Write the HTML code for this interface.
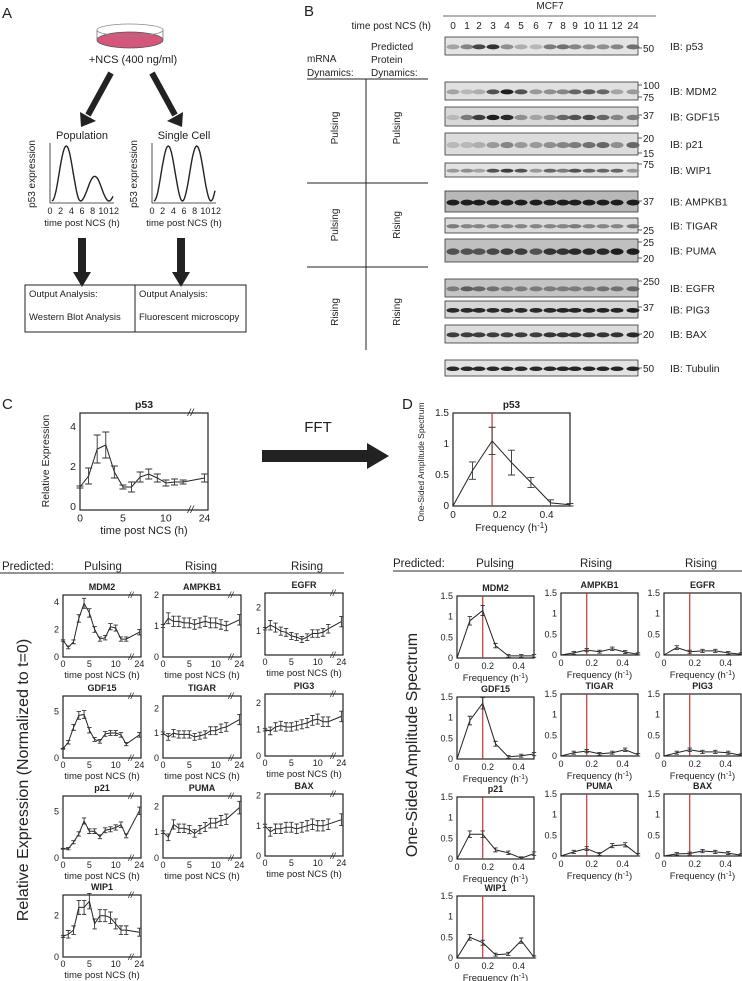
<!DOCTYPE html>
<html><head><meta charset="utf-8"><style>
body{margin:0;background:#fff;}
svg{display:block;font-family:"Liberation Sans",sans-serif;}
text{fill:#222;}
</style></head><body>
<svg id="fig" width="742" height="981" viewBox="0 0 742 981">
<!-- Panel A -->
<g>
<text x="2" y="18" font-size="15">A</text>
<ellipse cx="130" cy="40" rx="33" ry="8" fill="#d4567a" stroke="#555" stroke-width="0.8"/>
<path d="M97 30 L97 40 M163 30 L163 40" stroke="#777" stroke-width="0.8"/>
<ellipse cx="130" cy="30" rx="33" ry="6" fill="none" stroke="#888" stroke-width="0.8"/>
<text x="133" y="63" font-size="11" text-anchor="middle">+NCS (400 ng/ml)</text>
<line x1="111" y1="73" x2="88" y2="115" stroke="#222" stroke-width="6"/>
<polygon points="80,112 96,121 81,127" fill="#222"/>
<line x1="152" y1="73" x2="175" y2="115" stroke="#222" stroke-width="6"/>
<polygon points="167,121 183,112 182,127" fill="#222"/>
<text x="82" y="139" font-size="11" text-anchor="middle">Population</text>
<text x="184" y="139" font-size="11" text-anchor="middle">Single Cell</text>
<g id="schem"></g>
<rect x="78" y="238" width="8" height="36" fill="#222"/>
<polygon points="73,272 91,272 82,287" fill="#222"/>
<rect x="177" y="238" width="8" height="36" fill="#222"/>
<polygon points="172,272 190,272 181,287" fill="#222"/>
<rect x="25" y="285" width="221" height="47" fill="none" stroke="#222" stroke-width="1"/>
<line x1="135" y1="285" x2="135" y2="332" stroke="#222"/>
<text x="29" y="297" font-size="9.5">Output Analysis:</text>
<text x="29" y="320" font-size="9.5">Western Blot Analysis</text>
<text x="139" y="297" font-size="9.5">Output Analysis:</text>
<text x="139" y="320" font-size="9.5">Fluorescent microscopy</text>
</g>
<!-- Panel B -->
<g>
<text x="304" y="16" font-size="15">B</text>
<text x="550" y="9" font-size="10" text-anchor="middle">MCF7</text>
<line x1="443" y1="16" x2="656" y2="16" stroke="#888" stroke-width="1.2"/>
<text x="431" y="29" font-size="10" text-anchor="end">time post NCS (h)</text>
<text x="371" y="50" font-size="10">Predicted</text>
<text x="371" y="63" font-size="10">Protein</text>
<text x="371" y="76" font-size="10">Dynamics:</text>
<text x="307" y="62" font-size="10">mRNA</text>
<text x="307" y="76" font-size="10">Dynamics:</text>
<line x1="307" y1="79" x2="428" y2="79" stroke="#222"/>
<line x1="307" y1="183" x2="428" y2="183" stroke="#222"/>
<line x1="307" y1="267" x2="428" y2="267" stroke="#222"/>
<line x1="366" y1="79" x2="366" y2="350" stroke="#222"/>
<text transform="translate(338,128) rotate(-90)" font-size="10" text-anchor="middle">Pulsing</text>
<text transform="translate(400,128) rotate(-90)" font-size="10" text-anchor="middle">Pulsing</text>
<text transform="translate(338,225) rotate(-90)" font-size="10" text-anchor="middle">Pulsing</text>
<text transform="translate(400,225) rotate(-90)" font-size="10" text-anchor="middle">Rising</text>
<text transform="translate(338,312) rotate(-90)" font-size="10" text-anchor="middle">Rising</text>
<text transform="translate(400,312) rotate(-90)" font-size="10" text-anchor="middle">Rising</text>
<g id="blots"></g>
</g>
<!-- Panel C/D headers -->
<text x="2" y="409" font-size="15">C</text>
<text x="402" y="409" font-size="15">D</text>
<polygon points="262,450 367,450 367,443 389,456 367,469 367,462 262,462" fill="#222"/>
<text x="318" y="432" font-size="15" text-anchor="middle">FFT</text>
<text x="2" y="570" font-size="11.5">Predicted:</text>
<text x="103" y="570" font-size="11.5" text-anchor="middle">Pulsing</text>
<text x="201" y="570" font-size="11.5" text-anchor="middle">Rising</text>
<text x="307" y="570" font-size="11.5" text-anchor="middle">Rising</text>
<line x1="0" y1="573" x2="344" y2="573" stroke="#555" stroke-width="1.2"/>
<text x="393" y="567" font-size="11.5">Predicted:</text>
<text x="495" y="567" font-size="11.5" text-anchor="middle">Pulsing</text>
<text x="596" y="567" font-size="11.5" text-anchor="middle">Rising</text>
<text x="701" y="567" font-size="11.5" text-anchor="middle">Rising</text>
<line x1="393" y1="571" x2="742" y2="571" stroke="#555" stroke-width="1.2"/>
<text transform="translate(28,780) rotate(-90)" font-size="16" text-anchor="middle">Relative Expression (Normalized to t=0)</text>
<text transform="translate(417,745) rotate(-90)" font-size="16" text-anchor="middle">One-Sided Amplitude Spectrum</text>
<g id="charts"></g>
</svg>
<script>
// ---- data ----
var times=[0,1,2,3,4,5,6,7,8,9,10,11,12,24];
var freqs=[0,0.083,0.167,0.25,0.333,0.417,0.5];
var peakFreq=0.167;
var p53Vals=[1.0,1.55,2.9,3.1,1.75,1.0,1.0,1.5,1.65,1.45,1.2,1.25,1.25,1.45];
var p53Errs=[0.05,0.4,0.7,0.65,0.3,0.1,0.25,0.25,0.25,0.2,0.15,0.15,0.1,0.2];
var p53Fft=[0,0.57,1.05,0.7,0.38,0.05,0.02];
var p53FftErr=[0,0.14,0.22,0.2,0.08,0.05,0.02];
var genes=["MDM2","AMPKB1","EGFR","GDF15","TIGAR","PIG3","p21","PUMA","BAX","WIP1"];
var geneMax=[4.5,2,2.6,6.7,2.5,2.35,6.7,2.4,2.05,3.0];
var geneTicks=[[0,2,4],[0,1,2],[1,2],[0,5],[0,1,2],[0,1,2],[0,5],[0,1,2],[0,1,2],[0,2]];
var mdm2Vals=[1.2,0.7,1.1,2.8,3.9,3.2,2.0,1.3,1.4,2.2,2.1,1.3,1.3,1.8];
var ampkVals=[1.0,1.25,1.15,1.15,1.1,1.1,1.05,1.1,1.15,1.1,1.1,1.05,1.0,1.2];
var egfrVals=[1.1,1.25,1.15,1.0,0.95,0.8,0.75,0.65,0.75,0.9,0.9,0.95,1.1,1.4];
var gdf15Vals=[1,1.7,3.3,4.6,4.7,3.0,2.0,1.8,2.6,2.7,2.7,2.5,1.5,2.5];
var tigarVals=[1.0,0.85,1.0,0.95,0.95,0.95,0.85,0.9,0.95,1.1,1.1,1.2,1.25,1.55];
var pig3Vals=[1.0,0.95,1.1,1.15,1.1,1.1,1.15,1.2,1.25,1.35,1.4,1.3,1.3,1.5];
var p21Vals=[1,1.0,1.7,2.6,4.0,2.9,2.9,2.3,3.0,3.1,3.3,3.6,2.4,5.1];
var pumaVals=[1.0,0.8,1.3,1.15,1.15,1.1,0.95,1.1,1.2,1.35,1.35,1.45,1.5,1.95];
var baxVals=[1.0,0.8,0.9,0.9,0.95,0.95,0.9,0.95,1.0,1.05,1.0,1.0,1.05,1.2];
var wip1Vals=[1,1.1,1.3,2.4,2.4,2.7,1.6,2.0,2.0,1.9,1.6,1.3,1.3,1.2];
var geneVals=[mdm2Vals,ampkVals,egfrVals,gdf15Vals,tigarVals,pig3Vals,p21Vals,pumaVals,baxVals,wip1Vals];
var geneErrFrac=[0.08,0.1,0.12,0.08,0.1,0.1,0.07,0.1,0.12,0.12];
var mdm2Fft=[0,0.9,1.15,0.3,0.05,0.05,0.05];
var ampkFft=[0,0.05,0.12,0.08,0.15,0.07,0.02];
var egfrFft=[0,0.18,0.08,0.1,0.1,0.05,0.02];
var gdf15Fft=[0,0.93,1.35,0.37,0.05,0.08,0.12];
var tigarFft=[0,0.08,0.12,0.05,0.08,0.15,0.03];
var pig3Fft=[0,0.08,0.15,0.1,0.1,0.08,0.02];
var p21Fft=[0,0.6,0.6,0.22,0.15,0.02,0.13];
var pumaFft=[0,0.1,0.18,0.05,0.25,0.27,0.03];
var baxFft=[0,0.05,0.06,0.12,0.1,0.07,0.02];
var wip1Fft=[0,0.5,0.37,0.08,0.1,0.42,0.02];
var geneFft=[mdm2Fft,ampkFft,egfrFft,gdf15Fft,tigarFft,pig3Fft,p21Fft,pumaFft,baxFft,wip1Fft];
// blots
var blotNames=["p53","MDM2","GDF15","p21","WIP1","AMPKB1","TIGAR","PUMA","EGFR","PIG3","BAX","Tubulin"];
var laneLabels=["0","1","2","3","4","5","6","7","8","9","10","11","12","24"];
var p53Band=[.3,.45,.75,.85,.4,.25,.2,.5,.55,.45,.4,.4,.45,.55];
var mdm2Band=[.3,.2,.25,.7,.95,.7,.35,.4,.45,.6,.65,.6,.3,.35];
var gdf15Band=[.2,.5,.8,.95,.9,.4,.3,.4,.6,.7,.75,.6,.45,.5];
var p21Band=[.2,.2,.25,.35,.45,.35,.35,.4,.45,.5,.55,.6,.4,.6];
var wip1Band=[.35,.4,.3,.7,.8,.7,.35,.6,.5,.7,.6,.6,.6,.35];
var ampkBand=[.95,.95,.95,.95,.95,.95,.95,.95,.95,.95,.95,.95,.95,.95];
var tigarBand=[.5,.45,.45,.45,.45,.45,.45,.45,.45,.5,.45,.45,.45,.5];
var pumaBand=[.7,.7,.7,.75,.8,.8,.7,.85,.85,.9,.9,.9,.95,.95];
var egfrBand=[.5,.65,.6,.55,.5,.5,.5,.5,.5,.5,.5,.55,.55,.6];
var pig3Band=[.9,.9,.9,.9,.9,.9,.9,.9,.92,.92,.92,.92,.92,.95];
var baxBand=[.8,.8,.8,.8,.8,.8,.8,.85,.85,.85,.85,.85,.85,.9];
var tubBand=[.9,.9,.9,.9,.9,.9,.9,.9,.92,.92,.92,.92,.92,.92];
var blotBands=[p53Band,mdm2Band,gdf15Band,p21Band,wip1Band,ampkBand,tigarBand,pumaBand,egfrBand,pig3Band,baxBand,tubBand];

var NS="http://www.w3.org/2000/svg";
function mk(tag,attrs,parent){var e=document.createElementNS(NS,tag);for(var k in attrs)e.setAttribute(k,attrs[k]);parent.appendChild(e);return e;}
function txt(s,attrs,parent){var e=mk("text",attrs,parent);e.textContent=s;return e;}

// ---- schematic plots in A ----
(function(){
  var g=document.getElementById("schem");
  var specs=[{x0:50,w:64,name:"population",damp:true},{x0:152,w:64,name:"single-cell",damp:false}];
  specs.forEach(function(s){
    var ax=mk("path",{d:"M"+s.x0+" 143 L"+s.x0+" 203 L"+(s.x0+s.w)+" 203",fill:"none",stroke:"#222","stroke-width":0.8},g);
    
    
    var d="";
    for(var i=0;i<=60;i++){var t=i/5;var a=s.damp?(t<5.5?1:0.45):1;var v=(1-Math.cos(2*Math.PI*t/5.6))/2*a;
      var X=s.x0+2+t/12*(s.w-3),Y=201-v*55;d+=(i?"L":"M")+X.toFixed(1)+" "+Y.toFixed(1);}
    var c=mk("path",{d:d,fill:"none",stroke:"#222","stroke-width":1.4},g);
    
    
    for(var k=0;k<=6;k++){var tl=txt(String(k*2),{x:s.x0+k*s.w/6,y:214,"font-size":9,"text-anchor":"middle"},g);
      
      }
    var xl=txt("time post NCS (h)",{x:s.x0+s.w/2,y:226,"font-size":9.5,"text-anchor":"middle"},g);
    
    
    var yl=txt("p53 expression",{transform:"translate("+(s.x0-15)+",174) rotate(-90)","font-size":10,"text-anchor":"middle"},g);
    
    
  });
})();

// ---- blots ----
(function(){
  var g=document.getElementById("blots");
  var rows=[[37,55],[82,100],[107,126],[133,155],[163,177],[191,212],[218,233],[239,262],[279,297],[301,318],[325,343],[360,376]];
  var bgs=["#e4e4e4","#e0e0e0","#d8d8d8","#dcdcdc","#e2e2e2","#b8b8b8","#dadada","#c0c0c0","#c4c4c4","#d6d6d6","#dcdcdc","#e2e2e2"];
  var mw=[[["50",48]],[["100",85],["75",97]],[["37",115]],[["20",138],["15",153]],[["75",164]],[["37",201]],[["25",230]],[["25",242],["20",258]],[["250",281]],[["37",307]],[["20",334]],[["50",368]]];
  var laneX=[453,467,479,493,507,521,536,550,563,575,589,603,617,633];
  laneLabels.forEach(function(l,i){var t=txt(l,{x:laneX[i],y:29,"font-size":10,"text-anchor":"middle"},g);
    
    });
  blotNames.forEach(function(n,r){
    var y0=rows[r][0],y1=rows[r][1],h=y1-y0;
    var box=mk("rect",{x:445,y:y0,width:193,height:h,fill:bgs[r],stroke:"#333","stroke-width":0.8},g);
    
    
    blotBands[r].forEach(function(v,i){
      var gray=Math.round(225-v*205);
      var b=mk("ellipse",{cx:laneX[i],cy:y0+h*0.55,rx:6.5,ry:Math.max(1.6,h*0.14),fill:"rgb("+gray+","+gray+","+gray+")"},g);
      
      
    });
    mw[r].forEach(function(m){
      var tk=mk("line",{x1:638,y1:m[1],x2:642,y2:m[1],stroke:"#333","stroke-width":0.8},g);
      
      
      var mt=txt(m[0],{x:643,y:m[1]+4,"font-size":10},g);
      
      
    });
    var lb=txt("IB: "+n,{x:670,y:(y0+y1)/2+4,"font-size":10.5},g);
    
    
  });
})();

// ---- charts ----
var chartsG=document.getElementById("charts");
function tpos(t){return t===24?14.5:t;}
function timeChart(c){
  var g=mk("g",{},chartsG);
  
  
  var sx=function(t){return c.x+tpos(t)/c.xmax*c.w;};
  var sy=function(v){return c.y+c.h-(v-c.ymin)/(c.ymax-c.ymin)*c.h;};
  var box=mk("rect",{x:c.x,y:c.y,width:c.w,height:c.h,fill:"none",stroke:"#222","stroke-width":1.2},g);
  
  
  var bx=sx(12)+(sx(24)-sx(12))*0.35;
  [c.y,c.y+c.h].forEach(function(yy){
    var br=txt("//",{x:bx,y:yy+3,"font-size":c.fs,"text-anchor":"middle","font-style":"italic"},g);
    
    });
  var pts=c.vals.map(function(v,i){return sx(times[i]).toFixed(1)+","+sy(v).toFixed(1);}).join(" ");
  var ln=mk("polyline",{points:pts,fill:"none",stroke:"#222","stroke-width":1},g);
  
  
  c.vals.forEach(function(v,i){
    var e=c.errs[i],X=sx(times[i]),cap=c.cap;
    var eb=mk("path",{d:"M"+X+" "+sy(v-e)+" L"+X+" "+sy(v+e)+" M"+(X-cap)+" "+sy(v-e)+" L"+(X+cap)+" "+sy(v-e)+" M"+(X-cap)+" "+sy(v+e)+" L"+(X+cap)+" "+sy(v+e),stroke:"#333","stroke-width":0.9,fill:"none"},g);
    
    
  });
  [0,5,10,24].forEach(function(t){
    var tl=txt(String(t),{x:sx(t),y:c.y+c.h+c.fs+1,"font-size":c.fs,"text-anchor":"middle"},g);
    
    });
  c.ticks.forEach(function(v){
    var yl=txt(String(v),{x:c.x-4,y:sy(v)+3,"font-size":c.fs,"text-anchor":"end"},g);
    
    });
  var xt=txt("time post NCS (h)",{x:c.x+c.w/2,y:c.y+c.h+c.fs*2+3,"font-size":c.fs+0.5,"text-anchor":"middle"},g);
  
  
  var tt=txt(c.title,{x:c.x+c.w/2,y:c.y-5,"font-size":c.fs,"font-weight":"bold","text-anchor":"middle"},g);
  
  
}
function fftChart(c){
  var g=mk("g",{},chartsG);
  
  
  var sx=function(f){return c.x+f/0.5*c.w;};
  var sy=function(v){return c.y+c.h-v/1.5*c.h;};
  var box=mk("rect",{x:c.x,y:c.y,width:c.w,height:c.h,fill:"none",stroke:"#222","stroke-width":1.2},g);
  
  
  var rl=mk("line",{x1:sx(peakFreq),y1:c.y,x2:sx(peakFreq),y2:c.y+c.h,stroke:"#c0392b","stroke-width":1.2},g);
  
  
  var pts=c.vals.map(function(v,i){return sx(freqs[i]).toFixed(1)+","+sy(v).toFixed(1);}).join(" ");
  var ln=mk("polyline",{points:pts,fill:"none",stroke:"#222","stroke-width":1},g);
  
  
  c.vals.forEach(function(v,i){
    var e=c.errs[i];if(!e)return;var X=sx(freqs[i]),cap=c.cap;
    var eb=mk("path",{d:"M"+X+" "+sy(Math.max(0,v-e))+" L"+X+" "+sy(v+e)+" M"+(X-cap)+" "+sy(Math.max(0,v-e))+" L"+(X+cap)+" "+sy(Math.max(0,v-e))+" M"+(X-cap)+" "+sy(v+e)+" L"+(X+cap)+" "+sy(v+e),stroke:"#333","stroke-width":0.9,fill:"none"},g);
    
    
  });
  [0,0.2,0.4].forEach(function(f){
    var tl=txt(String(f),{x:sx(f),y:c.y+c.h+c.fs+2,"font-size":c.fs,"text-anchor":"middle"},g);
    
    });
  [0,0.5,1,1.5].forEach(function(v){
    var yl=txt(String(v),{x:c.x-4,y:sy(v)+3,"font-size":c.fs,"text-anchor":"end"},g);
    
    });
  var xt=mk("text",{x:c.x+c.w/2,y:c.y+c.h+c.fs*2+5,"font-size":c.fs+0.5,"text-anchor":"middle"},g);
  xt.innerHTML='Frequency (h<tspan dy="-3" font-size="'+(c.fs-2)+'">-1</tspan><tspan dy="3">)</tspan>';
  
  
  var tt=txt(c.title,{x:c.x+c.w/2,y:c.y-5,"font-size":c.fs,"font-weight":"bold","text-anchor":"middle"},g);
  
  
}
// panel C
timeChart({name:"p53",title:"p53",x:80,y:413,w:128,h:97,xmax:14.9,ymin:-0.15,ymax:4.7,vals:p53Vals,errs:p53Errs,ticks:[0,2,4],fs:10.5,cap:3.5});
(function(){var yl=txt("Relative Expression",{transform:"translate(49,461) rotate(-90)","font-size":10.5,"text-anchor":"middle"},chartsG);
  
  })();
// panel D
fftChart({name:"p53",title:"p53",x:453,y:413,w:117,h:93,vals:p53Fft,errs:p53FftErr,fs:10,cap:3.5});
(function(){var yl=txt("One-Sided Amplitude Spectrum",{transform:"translate(424,462) rotate(-90)","font-size":8.5,"text-anchor":"middle"},chartsG);
  
  })();
// grids
var leftCols=[63,163,265],rightCols=[457,561,664],rowTops=[595,696,796,895];
genes.forEach(function(gn,i){
  var col=i<9?i%3:0,row=Math.floor(i/3);
  var errs=geneVals[i].map(function(v,k){return k===0?0.05:v*geneErrFrac[i]+0.05;});
  timeChart({name:gn.toLowerCase(),title:gn,x:leftCols[col],y:rowTops[row]-(col===2?2:0),w:78,h:62,xmax:14.8,ymin:0,ymax:geneMax[i],vals:geneVals[i],errs:errs,ticks:geneTicks[i],fs:9,cap:2.2});
  var ferr=geneFft[i].map(function(v,k){return k===0?0:0.03+v*0.08;});
  fftChart({name:gn.toLowerCase(),title:gn,x:rightCols[col],y:rowTops[row]+(col===0?1:-2),w:77,h:62,vals:geneFft[i],errs:ferr,fs:9,cap:2.2});
});
</script>
</body></html>
